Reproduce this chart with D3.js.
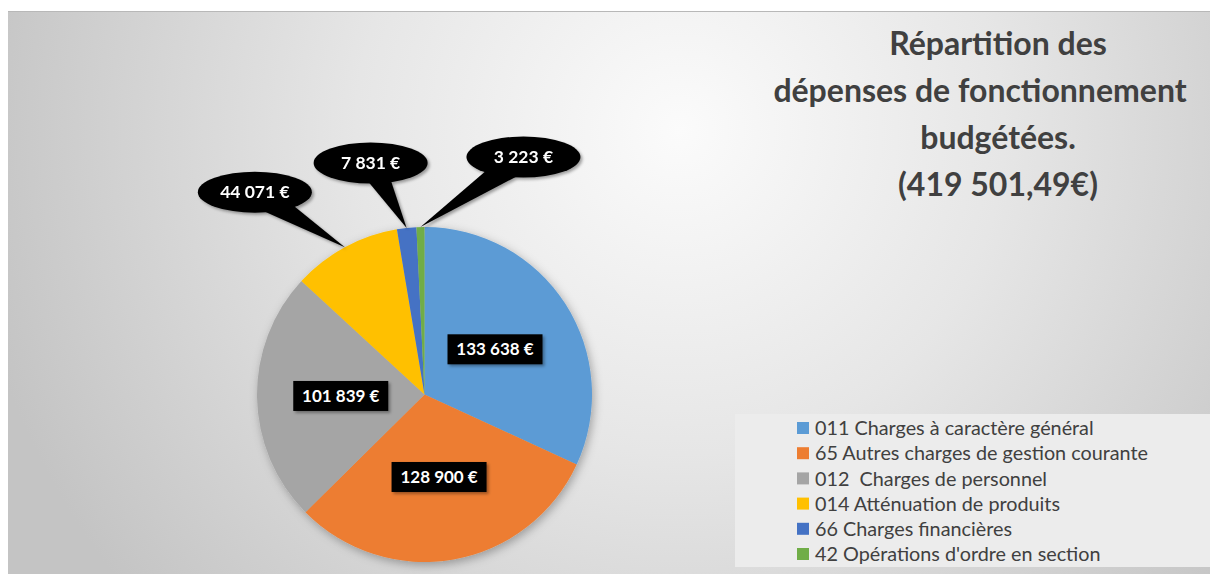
<!DOCTYPE html>
<html>
<head>
<meta charset="utf-8">
<script src="https://cdn.jsdelivr.net/npm/d3@7"></script>
<style>
  body { margin: 0; background: #fff; }
  svg { display: block; }
</style>
</head>
<body>
<div id="chart"></div>
<script>
// data
var categories = [
    "011 Charges à caractère général",
    "65 Autres charges de gestion courante",
    "012  Charges de personnel",
    "014 Atténuation de produits",
    "66 Charges financières",
    "42 Opérations d'ordre en section"
];
var values = [133638, 128900, 101839, 44071, 7831, 3223];
var valueLabels = ["133 638 €", "128 900 €", "101 839 €", "44 071 €", "7 831 €", "3 223 €"];
var titleLines = ["Répartition des", "dépenses de fonctionnement", "budgétées.", "(419 501,49€)"];

var colors = ["#5b9bd5", "#ed7d31", "#a5a5a5", "#ffc000", "#4472c4", "#70ad47"];

var width = 1210, height = 574;

var svg = d3.select("#chart").append("svg")
    .attr("width", width)
    .attr("height", height);

var defs = svg.append("defs");

var bg = defs.append("radialGradient")
    .attr("id", "bg")
    .attr("gradientUnits", "userSpaceOnUse")
    .attr("cx", 680).attr("cy", 130).attr("r", 720);
bg.append("stop").attr("offset", "0%").attr("stop-color", "#fbfbfb");
bg.append("stop").attr("offset", "45%").attr("stop-color", "#e6e6e6");
bg.append("stop").attr("offset", "100%").attr("stop-color", "#c4c4c4");

var shadow = defs.append("filter").attr("id", "shadow")
    .attr("x", "-20%").attr("y", "-20%").attr("width", "140%").attr("height", "140%");
shadow.append("feDropShadow")
    .attr("dx", 2).attr("dy", 3).attr("stdDeviation", 5)
    .attr("flood-color", "#000").attr("flood-opacity", 0.3);

var boxShadow = defs.append("filter").attr("id", "boxShadow")
    .attr("x", "-20%").attr("y", "-30%").attr("width", "140%").attr("height", "160%");
boxShadow.append("feDropShadow")
    .attr("dx", 2).attr("dy", 2).attr("stdDeviation", 1.5)
    .attr("flood-color", "#000").attr("flood-opacity", 0.35);

// background
svg.append("rect")
    .attr("x", 8).attr("y", 11)
    .attr("width", width - 8).attr("height", height - 11)
    .attr("fill", "url(#bg)");
svg.append("line")
    .attr("x1", 8).attr("x2", width)
    .attr("y1", 11.5).attr("y2", 11.5)
    .attr("stroke", "#b8b8b8");

// title
svg.append("g").selectAll("text")
    .data(titleLines)
    .enter()
    .append("text")
    .attr("x", function (d, i) { return i === 1 ? 980 : 998; })
    .attr("y", function (d, i) { return 55 + i * 47; })
    .attr("text-anchor", "middle")
    .style("font-family", "Lato, 'Open Sans', sans-serif")
    .style("font-weight", "bold")
    .style("font-size", "32px")
    .style("fill", "#404040")
    .text(function (d) { return d; });

// pie
var cx = 424.5, cy = 394.5, radius = 167.5;

var pie = d3.pie().sort(null);
var arcs = pie(values);
var arc = d3.arc().innerRadius(0).outerRadius(radius);

var pieGroup = svg.append("g")
    .attr("transform", "translate(" + cx + "," + cy + ")");

pieGroup.append("g")
    .attr("filter", "url(#shadow)")
    .selectAll("path")
    .data(arcs)
    .enter()
    .append("path")
    .attr("d", arc)
    .attr("fill", function (d, i) { return colors[i]; });

// boxed labels inside the big slices
var innerArc = d3.arc().innerRadius(radius * 0.5).outerRadius(radius * 0.5);
var boxW = 95, boxH = 30;

var boxes = pieGroup.selectAll(".box")
    .data(arcs.filter(function (d) { return d.value > 50000; }))
    .enter()
    .append("g")
    .attr("class", "box")
    .attr("transform", function (d) {
        var c = innerArc.centroid(d);
        return "translate(" + c[0] + "," + c[1] + ")";
    });

boxes.append("rect")
    .attr("x", -boxW / 2).attr("y", -boxH / 2)
    .attr("width", boxW).attr("height", boxH)
    .attr("fill", "#000")
    .attr("filter", "url(#boxShadow)");

boxes.append("text")
    .attr("text-anchor", "middle")
    .attr("dy", "0.36em")
    .style("font-family", "Lato, 'Open Sans', sans-serif")
    .style("font-weight", "bold")
    .style("font-size", "17px")
    .style("fill", "#fff")
    .text(function (d) { return valueLabels[d.index]; });

// speech bubbles for the small slices
var bubbleOffsets = { 3: [-90, -55], 4: [-36, -65], 5: [103, -70] };
var rx = 57, ry = 20.5;

var bubbles = pieGroup.selectAll(".bubble")
    .data(arcs.filter(function (d) { return d.value < 50000; }))
    .enter()
    .append("g")
    .attr("class", "bubble")
    .attr("filter", "url(#boxShadow)");

bubbles.each(function (d) {
    var g = d3.select(this);
    var mid = (d.startAngle + d.endAngle) / 2;
    var tip = [radius * Math.sin(mid), -radius * Math.cos(mid)];
    var off = bubbleOffsets[d.index];
    var c = [tip[0] + off[0], tip[1] + off[1]];
    var len = Math.sqrt(off[0] * off[0] + off[1] * off[1]);
    var nx = -off[1] / len * 14, ny = off[0] / len * 14;

    g.append("path")
        .attr("d", d3.line()([[c[0] + nx, c[1] + ny], tip, [c[0] - nx, c[1] - ny]]) + "Z")
        .attr("fill", "#000");

    g.append("ellipse")
        .attr("cx", c[0]).attr("cy", c[1])
        .attr("rx", rx).attr("ry", ry)
        .attr("fill", "#000");

    g.append("text")
        .attr("x", c[0]).attr("y", c[1])
        .attr("text-anchor", "middle")
        .attr("dy", "0.36em")
        .style("font-family", "Lato, 'Open Sans', sans-serif")
        .style("font-weight", "bold")
        .style("font-size", "17.5px")
        .style("fill", "#fff")
        .text(valueLabels[d.index]);
});

// legend
svg.append("rect")
    .attr("x", 735).attr("y", 414)
    .attr("width", width - 735).attr("height", 153)
    .attr("fill", "#ececec");

var legend = svg.append("g").selectAll("g")
    .data(categories)
    .enter()
    .append("g")
    .attr("transform", function (d, i) { return "translate(797," + (428 + i * 25.2) + ")"; });

legend.append("rect")
    .attr("x", 0).attr("y", -6)
    .attr("width", 12).attr("height", 12)
    .attr("fill", function (d, i) { return colors[i]; });

legend.append("text")
    .attr("x", 18)
    .attr("dy", "0.36em")
    .style("font-family", "Lato, 'Open Sans', sans-serif")
    .style("font-size", "19.8px")
    .style("fill", "#404040")
    .attr("xml:space", "preserve")
    .text(function (d) { return d; });
</script>
</body>
</html>
